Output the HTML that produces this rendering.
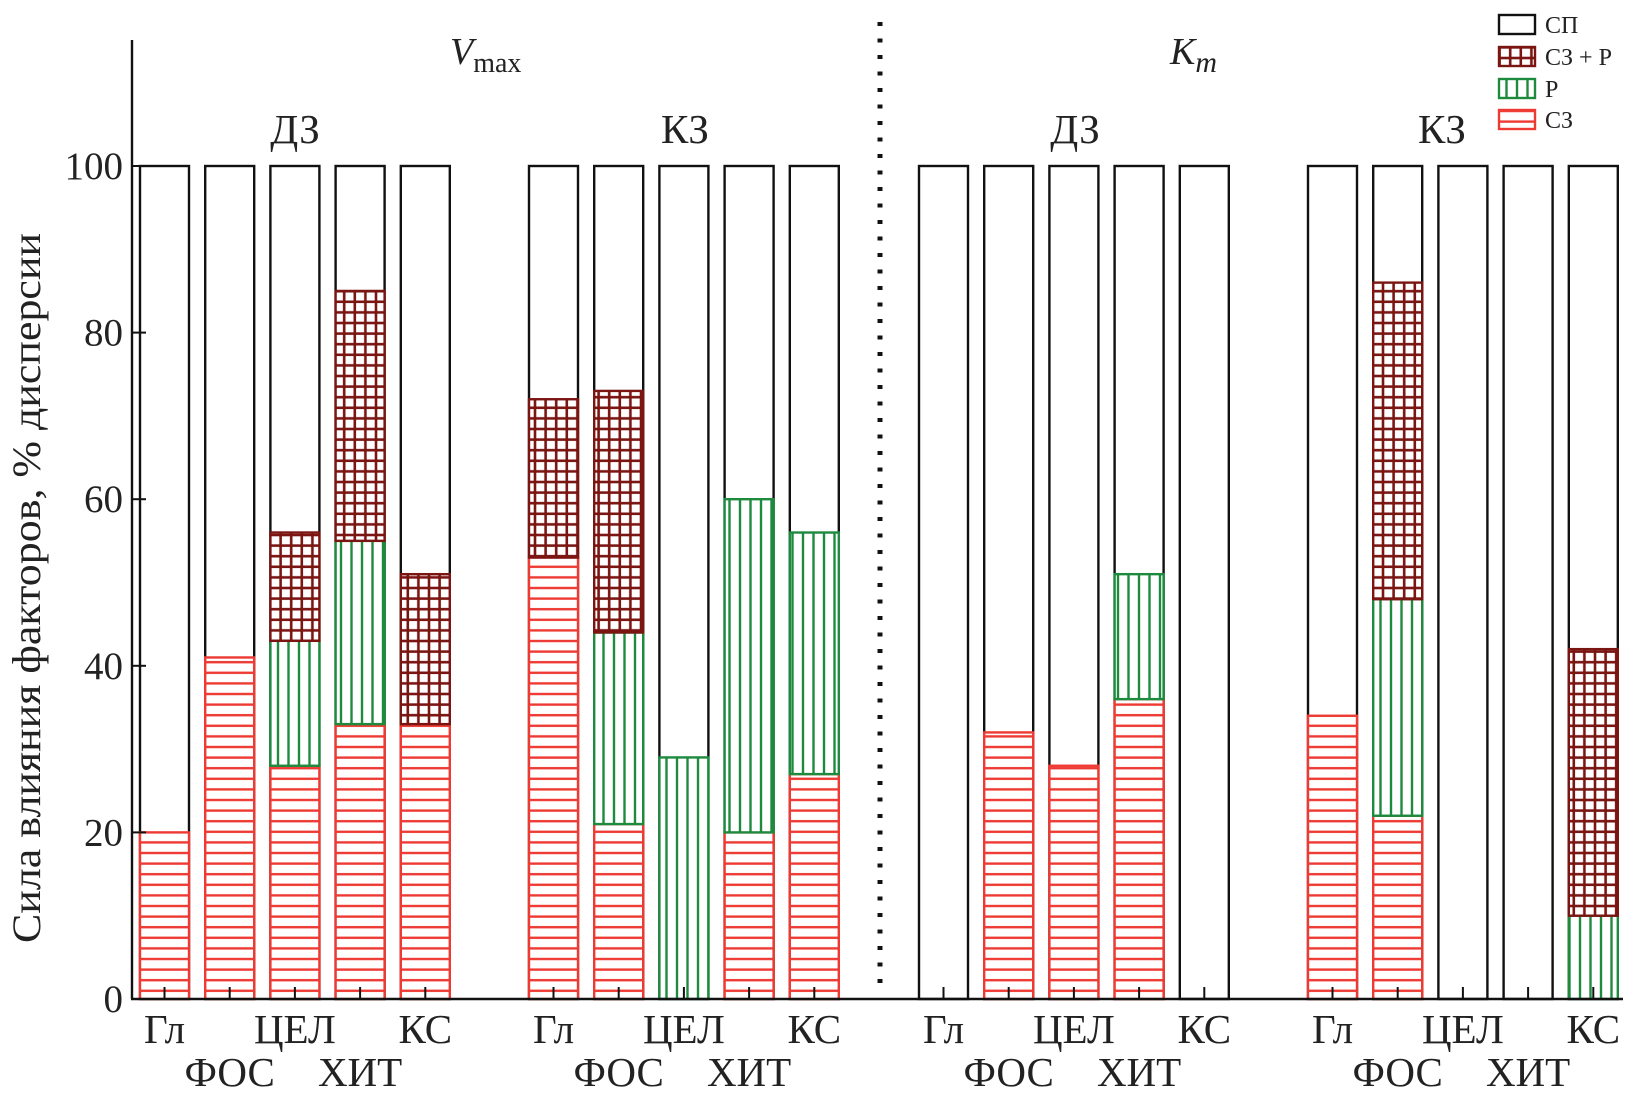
<!DOCTYPE html>
<html><head><meta charset="utf-8"><style>
html,body{margin:0;padding:0;background:#fff}
svg text{font-family:"Liberation Serif","DejaVu Serif",serif;fill:#222}
</style></head><body>
<svg id="chart" width="1637" height="1104" viewBox="0 0 1637 1104" xmlns="http://www.w3.org/2000/svg">
<defs>
<pattern id="pSZ" patternUnits="userSpaceOnUse" width="10" height="10.6"><rect width="10" height="10.6" fill="#fff"/><line x1="0" y1="5" x2="10" y2="5" stroke="#ee3a33" stroke-width="2.4"/></pattern>
<pattern id="pR" patternUnits="userSpaceOnUse" width="10.5" height="10"><rect width="10.5" height="10" fill="#fff"/><line x1="5" y1="0" x2="5" y2="10" stroke="#1e8a3e" stroke-width="2.4"/></pattern>
<pattern id="pSZR" patternUnits="userSpaceOnUse" width="10.6" height="10.6"><rect width="10.6" height="10.6" fill="#fff"/><line x1="5" y1="0" x2="5" y2="10.6" stroke="#7a1512" stroke-width="2.6"/><line x1="0" y1="5" x2="10.6" y2="5" stroke="#7a1512" stroke-width="2.6"/></pattern>
</defs>
<g id="plot"></g>
</svg>
<script>
const categories = ["Гл","ФОС","ЦЕЛ","ХИТ","КС"];
const groupNames = ["Vmax-ДЗ","Vmax-КЗ","Km-ДЗ","Km-КЗ"];
// component shares (% dispersion), per group, per category
const szValues = [[20,41,28,33,33],[53,21,0,20,27],[0,32,28,36,0],[34,22,0,0,0]];
const rValues = [[0,0,15,22,0],[0,23,29,40,29],[0,0,0,15,0],[0,26,0,0,10]];
const szrValues = [[0,0,13,30,18],[19,29,0,0,0],[0,0,0,0,0],[0,38,0,0,32]];
const yTicks = [0,20,40,60,80,100];

const NS="http://www.w3.org/2000/svg";
const g=document.getElementById('plot');
const y0=999,y100=166;
const yScale=v=>y0-(y0-y100)*v/100;
const groupStart=[140,529,919,1308];
const barStep=65.2,barW=49;
const xScale=(gi,ci)=>groupStart[gi]+ci*barStep;
function mk(tag,attrs,txt){const e=document.createElementNS(NS,tag);for(const k in attrs)e.setAttribute(k,attrs[k]);if(txt!==undefined)e.textContent=txt;g.appendChild(e);return e;}

groupNames.forEach((gn,gi)=>{
  categories.forEach((c,ci)=>{
    const x=xScale(gi,ci);
    const b=mk('rect',{x:x,y:yScale(100),width:barW,height:yScale(0)-yScale(100),fill:'#fff',stroke:'#111','stroke-width':2.4});
    
    
    let base=0;
    const segs=[[szValues[gi][ci],'url(#pSZ)','#ee3a33','sz'],[rValues[gi][ci],'url(#pR)','#1e8a3e','r'],[szrValues[gi][ci],'url(#pSZR)','#7a1512','szr']];
    segs.forEach(s=>{
      if(s[0]>0){
        const r=mk('rect',{x:x,y:yScale(base+s[0]),width:barW,height:yScale(base)-yScale(base+s[0]),fill:s[1],stroke:s[2],'stroke-width':2.4});
        
        
        base+=s[0];
      }
    });
    const t=mk('line',{x1:x+barW/2,y1:y0,x2:x+barW/2,y2:y0-12,stroke:'#111','stroke-width':2});
    
    
    const lab=mk('text',{x:x+barW/2,y:ci%2===0?1043:1086,'text-anchor':'middle','font-size':41},c);
    
    
  });
});
const ya=mk('line',{x1:132,y1:40,x2:132,y2:y0,stroke:'#111','stroke-width':2.4});


const xa=mk('line',{x1:131,y1:y0,x2:1623,y2:y0,stroke:'#111','stroke-width':2.4});


yTicks.forEach(v=>{
  const tl=mk('line',{x1:132,y1:yScale(v),x2:146,y2:yScale(v),stroke:'#111','stroke-width':2});
  
  
  const tt=mk('text',{x:123,y:yScale(v)+13,'text-anchor':'end','font-size':39},String(v));
  
  
});
const dl=mk('line',{x1:880,y1:22,x2:880,y2:990,stroke:'#111','stroke-width':5,'stroke-dasharray':'4 12.5'});


</script>
<svg style="position:absolute;left:0;top:0" width="1637" height="1104">
<text transform="translate(40,588) rotate(-90)" text-anchor="middle" font-size="40" font-family="Liberation Serif, serif" fill="#222" textLength="710" lengthAdjust="spacingAndGlyphs">Сила влияния факторов, % дисперсии</text>
<text x="450" y="64" font-size="38" font-family="Liberation Serif, serif" fill="#222"><tspan font-style="italic">V</tspan><tspan font-size="28" dy="8">max</tspan></text>
<text x="1170" y="64" font-size="38" font-family="Liberation Serif, serif" fill="#222"><tspan font-style="italic">K</tspan><tspan font-size="30" font-style="italic" dy="8">m</tspan></text>
<text x="295" y="143" text-anchor="middle" font-size="41" font-family="Liberation Serif, serif" fill="#222">ДЗ</text>
<text x="685" y="143" text-anchor="middle" font-size="41" font-family="Liberation Serif, serif" fill="#222">КЗ</text>
<text x="1075" y="143" text-anchor="middle" font-size="41" font-family="Liberation Serif, serif" fill="#222">ДЗ</text>
<text x="1442" y="143" text-anchor="middle" font-size="41" font-family="Liberation Serif, serif" fill="#222">КЗ</text>
<g font-family="Liberation Serif, serif" font-size="24" fill="#222">
<rect x="1499" y="15" width="36" height="19" fill="#fff" stroke="#111" stroke-width="2.4"/>
<text x="1545" y="33">СП</text>
<rect x="1499" y="47" width="36" height="19" fill="url(#pSZR)" stroke="#7a1512" stroke-width="2.4"/>
<text x="1545" y="65">СЗ + Р</text>
<rect x="1499" y="79" width="36" height="19" fill="url(#pR)" stroke="#1e8a3e" stroke-width="2.4"/>
<text x="1545" y="97">Р</text>
<rect x="1499" y="110" width="36" height="19" fill="url(#pSZ)" stroke="#ee3a33" stroke-width="2.4"/>
<text x="1545" y="128">СЗ</text>
</g>
</svg>
</body></html>
